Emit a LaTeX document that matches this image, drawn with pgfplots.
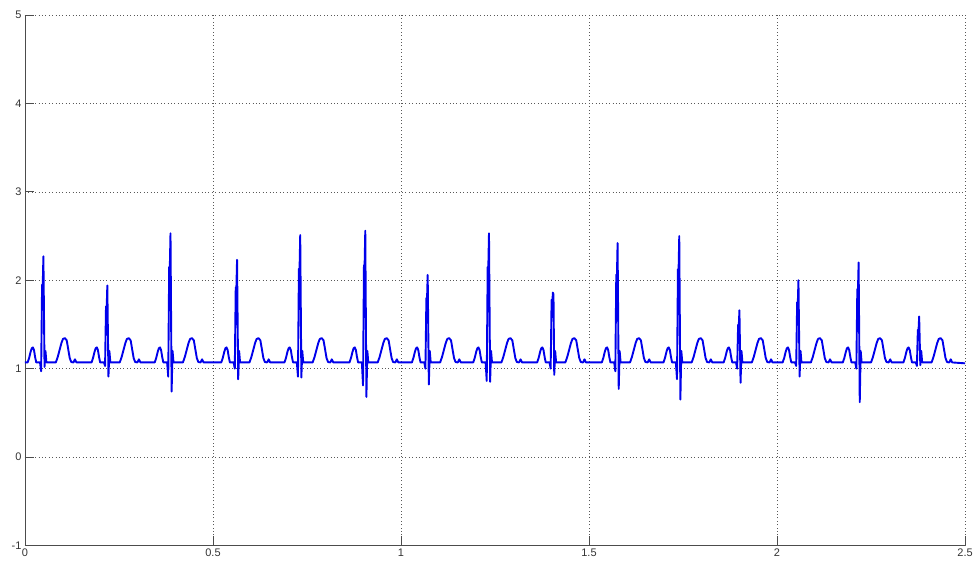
\documentclass[border=0pt]{standalone}
\usepackage{pgfplots}
\pgfplotsset{compat=1.18}
\usepackage{fontspec}
\setmainfont{Liberation Sans}
\definecolor{ecg}{RGB}{0,0,235}
\begin{document}
\begin{tikzpicture}
\begin{axis}[
  scale only axis, width=941pt, height=531pt,
  xmin=0, xmax=2.5, ymin=-1, ymax=5,
  axis x line*=bottom, axis y line*=left,
  axis line style={black!70, line width=0.8pt, -},
  tick align=inside, major tick length=9pt,
  tick style={black!70, line width=0.8pt},
  xtick={0,0.5,1,1.5,2,2.5}, ytick={-1,0,1,2,3,4,5},
  xticklabels={0,0.5,1,1.5,2,2.5}, yticklabels={-1,0,1,2,3,4,5},
  grid=major, major grid style={black!65, line width=0.6pt, dash pattern=on 0.8pt off 2.6pt},
  ticklabel style={font=\fontsize{11}{13}\selectfont, text=black!80},
  /pgf/number format/assume math mode=true,
]
\addplot[ecg, line width=1.9pt, line join=round, mark=none] coordinates {
(0,1.07)
(0.007,1.07)(0.011,1.12)(0.015,1.19)(0.018,1.23)(0.021,1.24)(0.024,1.21)(0.027,1.13)(0.030,1.07)
(0.040,1.07)(0.043,0.97)(0.0455,1.95)(0.047,1.9)(0.049,2.27)(0.052,1.02)(0.0545,1.2)(0.057,1.07)
(0.082,1.07)(0.087,1.13)(0.092,1.21)(0.097,1.29)(0.101,1.335)(0.106,1.345)(0.111,1.32)(0.115,1.22)(0.119,1.12)(0.123,1.075)
(0.129,1.07)(0.133,1.105)(0.137,1.07)
(0.177,1.07)(0.181,1.12)(0.185,1.19)(0.188,1.23)(0.191,1.24)(0.194,1.21)(0.197,1.13)(0.200,1.07)
(0.210,1.07)(0.213,1.03)(0.2155,1.705)(0.217,1.65)(0.219,1.94)(0.222,0.91)(0.2245,1.2)(0.227,1.07)
(0.252,1.07)(0.257,1.13)(0.262,1.21)(0.267,1.29)(0.271,1.335)(0.276,1.345)(0.281,1.32)(0.285,1.22)(0.289,1.12)(0.293,1.075)
(0.299,1.07)(0.303,1.105)(0.307,1.07)
(0.345,1.07)(0.349,1.12)(0.353,1.19)(0.356,1.23)(0.359,1.24)(0.362,1.21)(0.365,1.13)(0.368,1.07)
(0.378,1.07)(0.381,0.91)(0.3835,2.15)(0.385,2.1)(0.387,2.53)(0.390,0.74)(0.3925,1.2)(0.395,1.07)
(0.420,1.07)(0.425,1.13)(0.430,1.21)(0.435,1.29)(0.439,1.335)(0.444,1.345)(0.449,1.32)(0.453,1.22)(0.457,1.12)(0.461,1.075)
(0.467,1.07)(0.471,1.105)(0.475,1.07)
(0.522,1.07)(0.526,1.12)(0.530,1.19)(0.533,1.23)(0.536,1.24)(0.539,1.21)(0.542,1.13)(0.545,1.07)
(0.555,1.07)(0.558,1.0)(0.5605,1.92)(0.562,1.87)(0.564,2.23)(0.567,0.88)(0.5695,1.2)(0.572,1.07)
(0.597,1.07)(0.602,1.13)(0.607,1.21)(0.612,1.29)(0.616,1.335)(0.621,1.345)(0.626,1.32)(0.630,1.22)(0.634,1.12)(0.638,1.075)
(0.644,1.07)(0.648,1.105)(0.652,1.07)
(0.690,1.07)(0.694,1.12)(0.698,1.19)(0.701,1.23)(0.704,1.24)(0.707,1.21)(0.710,1.13)(0.713,1.07)
(0.723,1.07)(0.726,0.91)(0.7285,2.13)(0.730,2.08)(0.732,2.51)(0.735,0.90)(0.7375,1.2)(0.740,1.07)
(0.765,1.07)(0.770,1.13)(0.775,1.21)(0.780,1.29)(0.784,1.335)(0.789,1.345)(0.794,1.32)(0.798,1.22)(0.802,1.12)(0.806,1.075)
(0.812,1.07)(0.816,1.105)(0.820,1.07)
(0.863,1.07)(0.867,1.12)(0.871,1.19)(0.874,1.23)(0.877,1.24)(0.880,1.21)(0.883,1.13)(0.886,1.07)
(0.896,1.07)(0.899,0.81)(0.9015,2.17)(0.903,2.12)(0.905,2.56)(0.908,0.68)(0.9105,1.2)(0.913,1.07)
(0.938,1.07)(0.943,1.13)(0.948,1.21)(0.953,1.29)(0.957,1.335)(0.962,1.345)(0.967,1.32)(0.971,1.22)(0.975,1.12)(0.979,1.075)
(0.985,1.07)(0.989,1.105)(0.993,1.07)
(1.029,1.07)(1.033,1.12)(1.037,1.19)(1.040,1.23)(1.043,1.24)(1.046,1.21)(1.049,1.13)(1.052,1.07)
(1.062,1.07)(1.065,1.0)(1.0675,1.80)(1.069,1.75)(1.071,2.06)(1.074,0.82)(1.0765,1.2)(1.079,1.07)
(1.104,1.07)(1.109,1.13)(1.114,1.21)(1.119,1.29)(1.123,1.335)(1.128,1.345)(1.133,1.32)(1.137,1.22)(1.141,1.12)(1.145,1.075)
(1.151,1.07)(1.155,1.105)(1.159,1.07)
(1.192,1.07)(1.196,1.12)(1.200,1.19)(1.203,1.23)(1.206,1.24)(1.209,1.21)(1.212,1.13)(1.215,1.07)
(1.225,1.07)(1.228,0.86)(1.2305,2.15)(1.232,2.1)(1.234,2.53)(1.237,0.85)(1.2395,1.2)(1.242,1.07)
(1.267,1.07)(1.272,1.13)(1.277,1.21)(1.282,1.29)(1.286,1.335)(1.291,1.345)(1.296,1.32)(1.300,1.22)(1.304,1.12)(1.308,1.075)
(1.314,1.07)(1.318,1.105)(1.322,1.07)
(1.362,1.07)(1.366,1.12)(1.370,1.19)(1.373,1.23)(1.376,1.24)(1.379,1.21)(1.382,1.13)(1.385,1.07)
(1.395,1.07)(1.398,1.0)(1.4005,1.78)(1.402,1.72)(1.404,1.86)(1.4055,1.84)(1.4075,0.93)(1.410,1.2)(1.4125,1.07)
(1.437,1.07)(1.442,1.13)(1.447,1.21)(1.452,1.29)(1.456,1.335)(1.461,1.345)(1.466,1.32)(1.470,1.22)(1.474,1.12)(1.478,1.075)
(1.484,1.07)(1.488,1.105)(1.492,1.07)
(1.534,1.07)(1.538,1.12)(1.542,1.19)(1.545,1.23)(1.548,1.24)(1.551,1.21)(1.554,1.13)(1.557,1.07)
(1.567,1.07)(1.570,0.97)(1.5725,2.065)(1.574,2.01)(1.576,2.42)(1.579,0.77)(1.5815,1.2)(1.584,1.07)
(1.609,1.07)(1.614,1.13)(1.619,1.21)(1.624,1.29)(1.628,1.335)(1.633,1.345)(1.638,1.32)(1.642,1.22)(1.646,1.12)(1.650,1.075)
(1.656,1.07)(1.660,1.105)(1.664,1.07)
(1.698,1.07)(1.702,1.12)(1.706,1.19)(1.709,1.23)(1.712,1.24)(1.715,1.21)(1.718,1.13)(1.721,1.07)
(1.731,1.07)(1.734,0.88)(1.7365,2.125)(1.738,2.07)(1.740,2.50)(1.743,0.65)(1.7455,1.2)(1.748,1.07)
(1.773,1.07)(1.778,1.13)(1.783,1.21)(1.788,1.29)(1.792,1.335)(1.797,1.345)(1.802,1.32)(1.806,1.22)(1.810,1.12)(1.814,1.075)
(1.820,1.07)(1.824,1.105)(1.828,1.07)
(1.858,1.07)(1.862,1.12)(1.866,1.19)(1.869,1.23)(1.872,1.24)(1.875,1.21)(1.878,1.13)(1.881,1.07)
(1.891,1.07)(1.894,1.0)(1.8965,1.495)(1.898,1.45)(1.900,1.66)(1.903,0.84)(1.9055,1.2)(1.908,1.07)
(1.933,1.07)(1.938,1.13)(1.943,1.21)(1.948,1.29)(1.952,1.335)(1.957,1.345)(1.962,1.32)(1.966,1.22)(1.970,1.12)(1.974,1.075)
(1.980,1.07)(1.984,1.105)(1.988,1.07)
(2.015,1.07)(2.019,1.12)(2.023,1.19)(2.026,1.23)(2.029,1.24)(2.032,1.21)(2.035,1.13)(2.038,1.07)
(2.048,1.07)(2.051,1.03)(2.0535,1.75)(2.055,1.7)(2.057,2.00)(2.060,0.91)(2.0625,1.2)(2.065,1.07)
(2.090,1.07)(2.095,1.13)(2.100,1.21)(2.105,1.29)(2.109,1.335)(2.114,1.345)(2.119,1.32)(2.123,1.22)(2.127,1.12)(2.131,1.075)
(2.137,1.07)(2.141,1.105)(2.145,1.07)
(2.175,1.07)(2.179,1.12)(2.183,1.19)(2.186,1.23)(2.189,1.24)(2.192,1.21)(2.195,1.13)(2.198,1.07)
(2.208,1.07)(2.211,1.0)(2.2135,1.90)(2.215,1.85)(2.217,2.20)(2.220,0.62)(2.2225,1.2)(2.225,1.07)
(2.250,1.07)(2.255,1.13)(2.260,1.21)(2.265,1.29)(2.269,1.335)(2.274,1.345)(2.279,1.32)(2.283,1.22)(2.287,1.12)(2.291,1.075)
(2.297,1.07)(2.301,1.105)(2.305,1.07)
(2.336,1.07)(2.340,1.12)(2.344,1.19)(2.347,1.23)(2.350,1.24)(2.353,1.21)(2.356,1.13)(2.359,1.07)
(2.369,1.07)(2.372,1.03)(2.3745,1.44)(2.376,1.4)(2.378,1.59)(2.381,1.04)(2.3835,1.2)(2.386,1.07)
(2.411,1.07)(2.416,1.13)(2.421,1.21)(2.426,1.29)(2.430,1.335)(2.435,1.345)(2.440,1.32)(2.444,1.22)(2.448,1.12)(2.452,1.075)
(2.458,1.07)(2.462,1.105)(2.466,1.07)
(2.5,1.06)
};
\end{axis}
\path ([shift={(-25pt,-18pt)}]current axis.south west) rectangle ([shift={(10pt,15pt)}]current axis.north east);
\end{tikzpicture}
\end{document}
